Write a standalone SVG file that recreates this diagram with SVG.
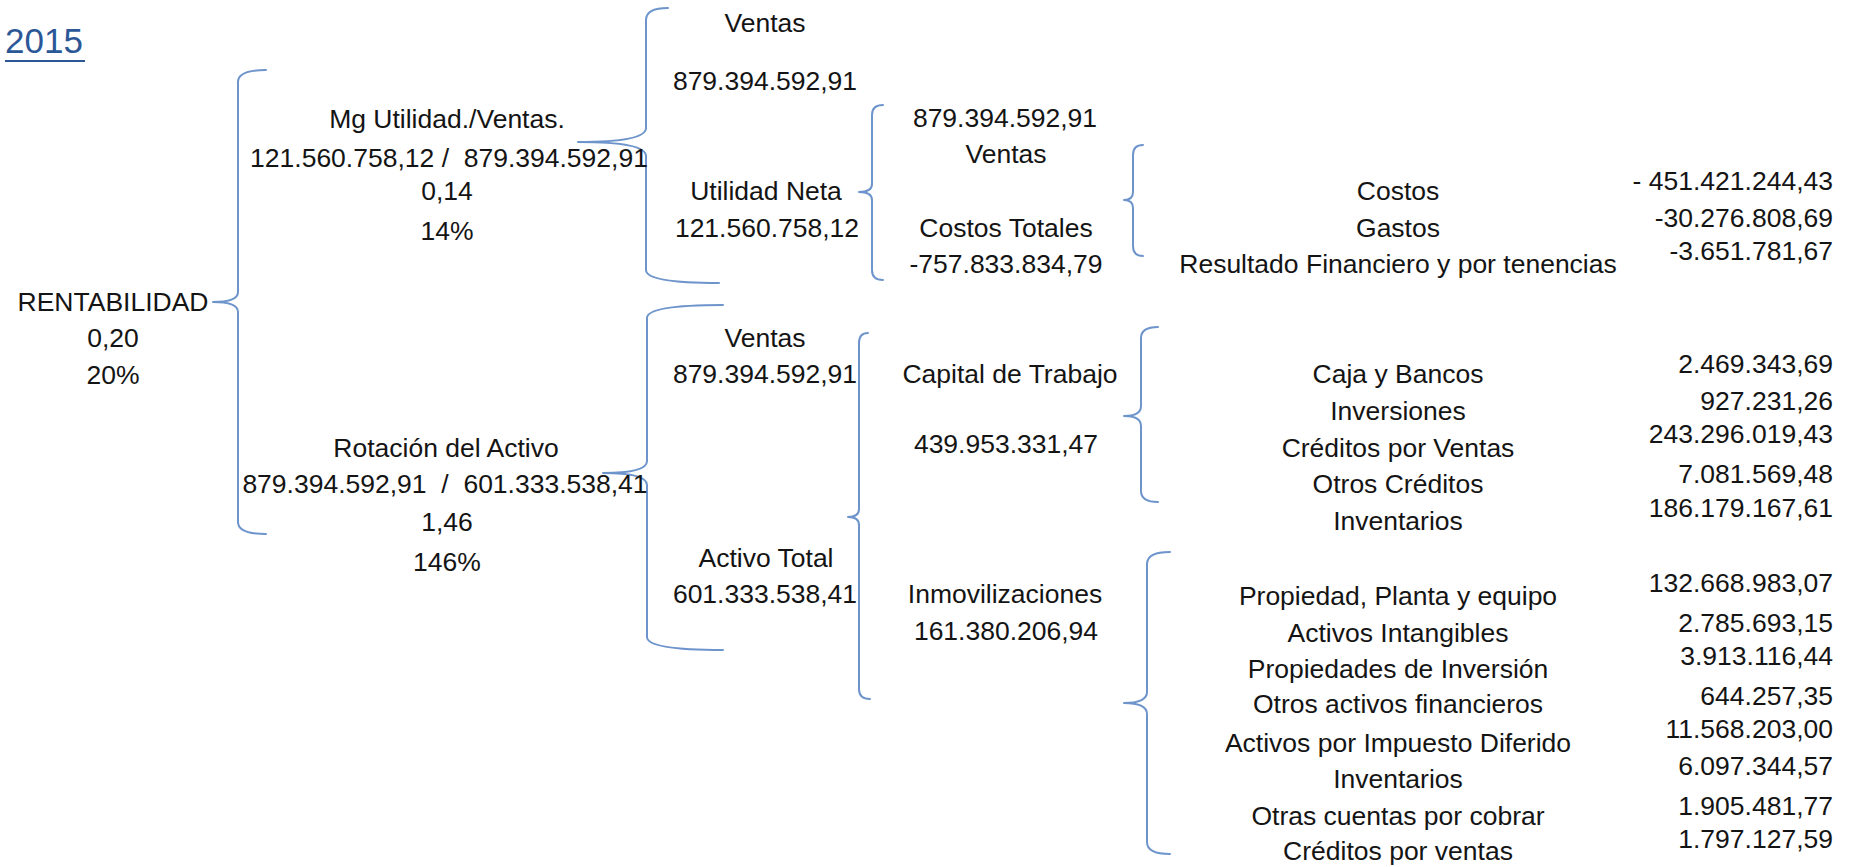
<svg xmlns="http://www.w3.org/2000/svg" width="1854" height="867" viewBox="0 0 1854 867">
<style>
text{font-family:"Liberation Sans",Arial,sans-serif;font-size:26.5px;fill:#141414;white-space:pre}
.c{text-anchor:middle}
.r{text-anchor:end}
.title{font-size:35px;fill:#2B5797}
.br{fill:none;stroke:#6E94CC;stroke-width:2;stroke-linecap:round;stroke-linejoin:round}
</style>
<rect width="1854" height="867" fill="#fff"/>
<g id="title">
<text class="title" x="5" y="53">2015</text>
<line x1="5" y1="61" x2="85" y2="61" stroke="#2B5797" stroke-width="2"/>
</g>
<g id="connectors">
<path class="br" d="M266,70 Q238,70 238,82 L238,292 Q238,302 213,302 Q238,302 238,312 L238,522 Q238,534 266,534"/>
<path class="br" d="M668,8 Q646,8 646,20 L646,128 Q646,142 578,142 Q646,142 646,156 L646,270 Q646,283 719,283"/>
<path class="br" d="M883,105 Q872,105 872,115 L872,184 Q872,192 859,192 Q872,192 872,200 L872,270 Q872,280 883,280"/>
<path class="br" d="M1143,145 Q1133,145 1133,155 L1133,192 Q1133,200 1124,200 Q1133,200 1133,208 L1133,246 Q1133,256 1143,256"/>
<path class="br" d="M1158,327 Q1141,327 1141,338 L1141,406 Q1141,416 1124,416 Q1141,416 1141,426 L1141,491 Q1141,502 1158,502"/>
<path class="br" d="M723,305 Q647,305 647,318 L647,461 Q647,473 603,473 Q647,473 647,485 L647,637 Q647,650 723,650"/>
<path class="br" d="M868,333 Q859,333 859,343 L859,509 Q859,517 848,517 Q859,517 859,525 L859,689 Q859,699 870,699"/>
<path class="br" d="M1170,552 Q1147,552 1147,564 L1147,692 Q1147,703 1124,703 Q1147,703 1147,714 L1147,842 Q1147,854 1170,854"/>
</g>
<g id="rentabilidad">
<text class="c" x="113" y="311">RENTABILIDAD</text>
<text class="c" x="113" y="347">0,20</text>
<text class="c" x="113" y="384">20%</text>
</g>
<g id="mg-utilidad">
<text class="c" x="447" y="128">Mg Utilidad./Ventas.</text>
<text class="c" x="449" y="167">121.560.758,12 /  879.394.592,91</text>
<text class="c" x="447" y="200">0,14</text>
<text class="c" x="447" y="240">14%</text>
</g>
<g id="rotacion">
<text class="c" x="446" y="457">Rotación del Activo</text>
<text class="c" x="445" y="493">879.394.592,91  /  601.333.538,41</text>
<text class="c" x="447" y="531">1,46</text>
<text class="c" x="447" y="571">146%</text>
</g>
<g id="ventas-1">
<text class="c" x="765" y="32">Ventas</text>
<text class="c" x="765" y="90">879.394.592,91</text>
</g>
<g id="utilidad-neta">
<text class="c" x="766" y="200">Utilidad Neta</text>
<text class="c" x="767" y="237">121.560.758,12</text>
</g>
<g id="ventas-2">
<text class="c" x="1005" y="127">879.394.592,91</text>
<text class="c" x="1006" y="163">Ventas</text>
</g>
<g id="costos-totales">
<text class="c" x="1006" y="237">Costos Totales</text>
<text class="c" x="1006" y="273">-757.833.834,79</text>
</g>
<g id="costos-items">
<text class="c" x="1398" y="200">Costos</text>
<text class="c" x="1398" y="237">Gastos</text>
<text class="c" x="1398" y="273">Resultado Financiero y por tenencias</text>
<text class="r" x="1833" y="190">- 451.421.244,43</text>
<text class="r" x="1833" y="227">-30.276.808,69</text>
<text class="r" x="1833" y="260">-3.651.781,67</text>
</g>
<g id="ventas-3">
<text class="c" x="765" y="347">Ventas</text>
<text class="c" x="765" y="383">879.394.592,91</text>
</g>
<g id="activo-total">
<text class="c" x="766" y="567">Activo Total</text>
<text class="c" x="765" y="603">601.333.538,41</text>
</g>
<g id="capital-trabajo">
<text class="c" x="1010" y="383">Capital de Trabajo</text>
<text class="c" x="1006" y="453">439.953.331,47</text>
</g>
<g id="inmovilizaciones">
<text class="c" x="1005" y="603">Inmovilizaciones</text>
<text class="c" x="1006" y="640">161.380.206,94</text>
</g>
<g id="capital-items">
<text class="c" x="1398" y="383">Caja y Bancos</text>
<text class="c" x="1398" y="420">Inversiones</text>
<text class="c" x="1398" y="457">Créditos por Ventas</text>
<text class="c" x="1398" y="493">Otros Créditos</text>
<text class="c" x="1398" y="530">Inventarios</text>
<text class="r" x="1833" y="373">2.469.343,69</text>
<text class="r" x="1833" y="410">927.231,26</text>
<text class="r" x="1833" y="443">243.296.019,43</text>
<text class="r" x="1833" y="483">7.081.569,48</text>
<text class="r" x="1833" y="517">186.179.167,61</text>
</g>
<g id="inmovilizaciones-items">
<text class="c" x="1398" y="605">Propiedad, Planta y equipo</text>
<text class="c" x="1398" y="642">Activos Intangibles</text>
<text class="c" x="1398" y="678">Propiedades de Inversión</text>
<text class="c" x="1398" y="713">Otros activos financieros</text>
<text class="c" x="1398" y="752">Activos por Impuesto Diferido</text>
<text class="c" x="1398" y="788">Inventarios</text>
<text class="c" x="1398" y="825">Otras cuentas por cobrar</text>
<text class="c" x="1398" y="860">Créditos por ventas</text>
<text class="r" x="1833" y="592">132.668.983,07</text>
<text class="r" x="1833" y="632">2.785.693,15</text>
<text class="r" x="1833" y="665">3.913.116,44</text>
<text class="r" x="1833" y="705">644.257,35</text>
<text class="r" x="1833" y="738">11.568.203,00</text>
<text class="r" x="1833" y="775">6.097.344,57</text>
<text class="r" x="1833" y="815">1.905.481,77</text>
<text class="r" x="1833" y="848">1.797.127,59</text>
</g>
</svg>
